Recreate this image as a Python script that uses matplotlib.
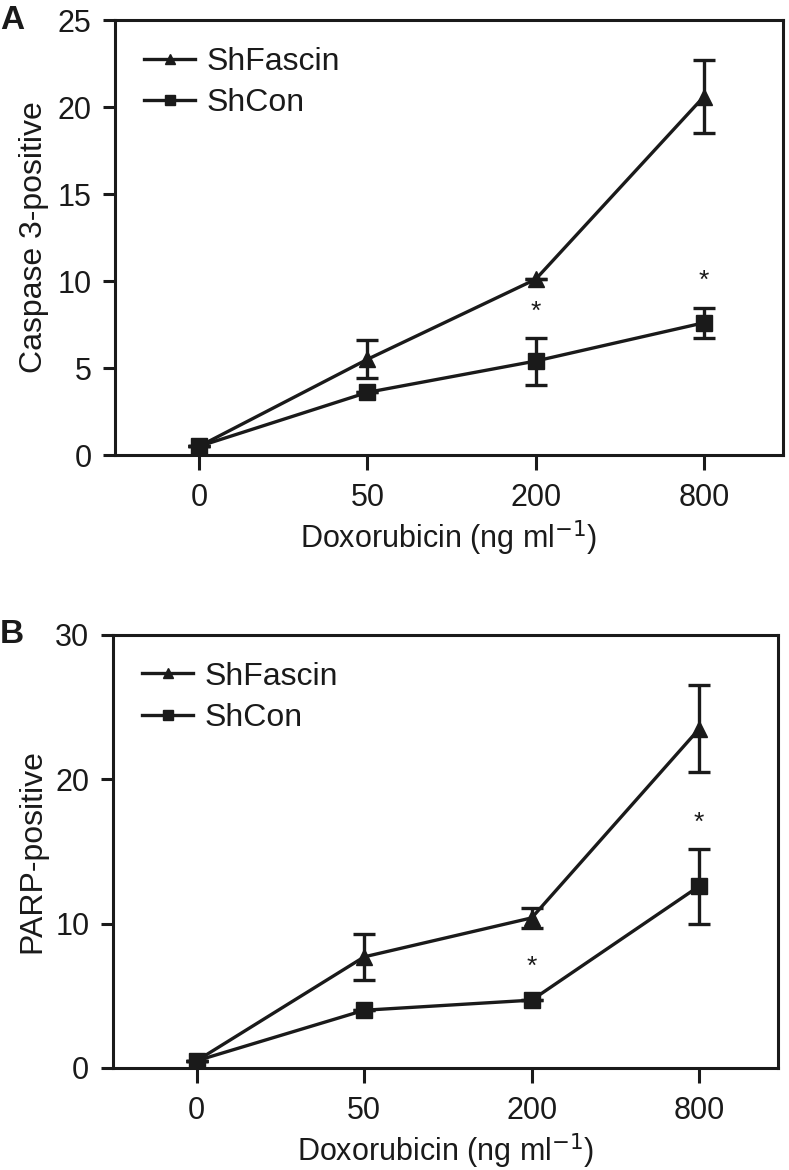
import matplotlib
matplotlib.use("Agg")
import matplotlib.pyplot as plt
from matplotlib.lines import Line2D

plt.rcParams['font.family'] = ['Liberation Sans', 'DejaVu Sans']

doses = ['0', '50', '200', '800']

# Panel A: caspase 3-positive
casp_fascin = [0.5, 5.5, 10.1, 20.6]
casp_fascin_err = [0.0, 1.1, 0.0, 2.1]
casp_con = [0.5, 3.6, 5.4, 7.6]
casp_con_err = [0.0, 0.0, 1.35, 0.85]
casp_star_idx = [2, 3]
casp_star_y = [8.2, 10.0]

# Panel B: PARP-positive
parp_fascin = [0.5, 7.7, 10.4, 23.5]
parp_fascin_err = [0.0, 1.6, 0.7, 3.0]
parp_con = [0.5, 4.0, 4.7, 12.6]
parp_con_err = [0.0, 0.0, 0.0, 2.6]
parp_star_idx = [2, 3]
parp_star_y = [7.0, 17.0]

ink = '#1a1a1a'
fs = 22

fig = plt.figure(figsize=(7.89, 11.70), dpi=100)
axA = fig.add_axes([0.1458, 0.6111, 0.9924 - 0.1458, 0.9829 - 0.6111])
axB = fig.add_axes([0.1432, 0.0872, 0.986 - 0.1432, 0.4573 - 0.0872])


def draw_panel(ax, fas, fas_err, con, con_err, star_idx, star_y, ymax, yticks, ylabel):
    x = list(range(len(doses)))
    ax.errorbar(x, fas, yerr=fas_err, color=ink, lw=2.4, marker='^', ms=12,
                capsize=8, capthick=2.4, elinewidth=2.4, zorder=3)
    ax.errorbar(x, con, yerr=con_err, color=ink, lw=2.4, marker='s', ms=11,
                capsize=8, capthick=2.4, elinewidth=2.4, zorder=3)
    for i, sy in zip(star_idx, star_y):
        ax.text(i, sy, '*', ha='center', va='center', fontsize=19, color=ink)
    ax.set_xlim(-0.5, 3.47)
    ax.set_ylim(0, ymax)
    ax.set_xticks(x)
    ax.set_xticklabels(doses)
    ax.set_yticks(yticks)
    ax.tick_params(axis='y', direction='out', length=9, width=2.2, labelsize=fs,
                   colors=ink, pad=8)
    ax.tick_params(axis='x', direction='out', length=11, width=2.2, labelsize=fs,
                   colors=ink, pad=9)
    for s in ax.spines.values():
        s.set_linewidth(2.2)
        s.set_color(ink)
    ax.set_xlabel('Doxorubicin (ng ml$^{-1}$)', fontsize=fs, color=ink, labelpad=4)
    ax.set_ylabel(ylabel, fontsize=23, color=ink, labelpad=6)
    handles = [Line2D([], [], color=ink, lw=2.4, marker='^', ms=7),
               Line2D([], [], color=ink, lw=2.4, marker='s', ms=7)]
    leg = ax.legend(handles, ['ShFascin', 'ShCon'], loc='upper left', frameon=False,
                    fontsize=23, handlelength=1.6, handletextpad=0.35, labelspacing=0.35,
                    borderaxespad=0.3, bbox_to_anchor=(0.01, 0.99))
    for t in leg.get_texts():
        t.set_color(ink)


draw_panel(axA, casp_fascin, casp_fascin_err, casp_con, casp_con_err,
           casp_star_idx, casp_star_y, 25, [0, 5, 10, 15, 20, 25], 'Caspase 3-positive')
draw_panel(axB, parp_fascin, parp_fascin_err, parp_con, parp_con_err,
           parp_star_idx, parp_star_y, 30, [0, 10, 20, 30], 'PARP-positive')

fig.text(0.0, 0.9829, 'A', fontsize=24, fontweight='bold', va='center', ha='left', color=ink)
fig.text(0.0, 0.4573, 'B', fontsize=24, fontweight='bold', va='center', ha='left', color=ink)

fig.savefig('out.png', dpi=100)
